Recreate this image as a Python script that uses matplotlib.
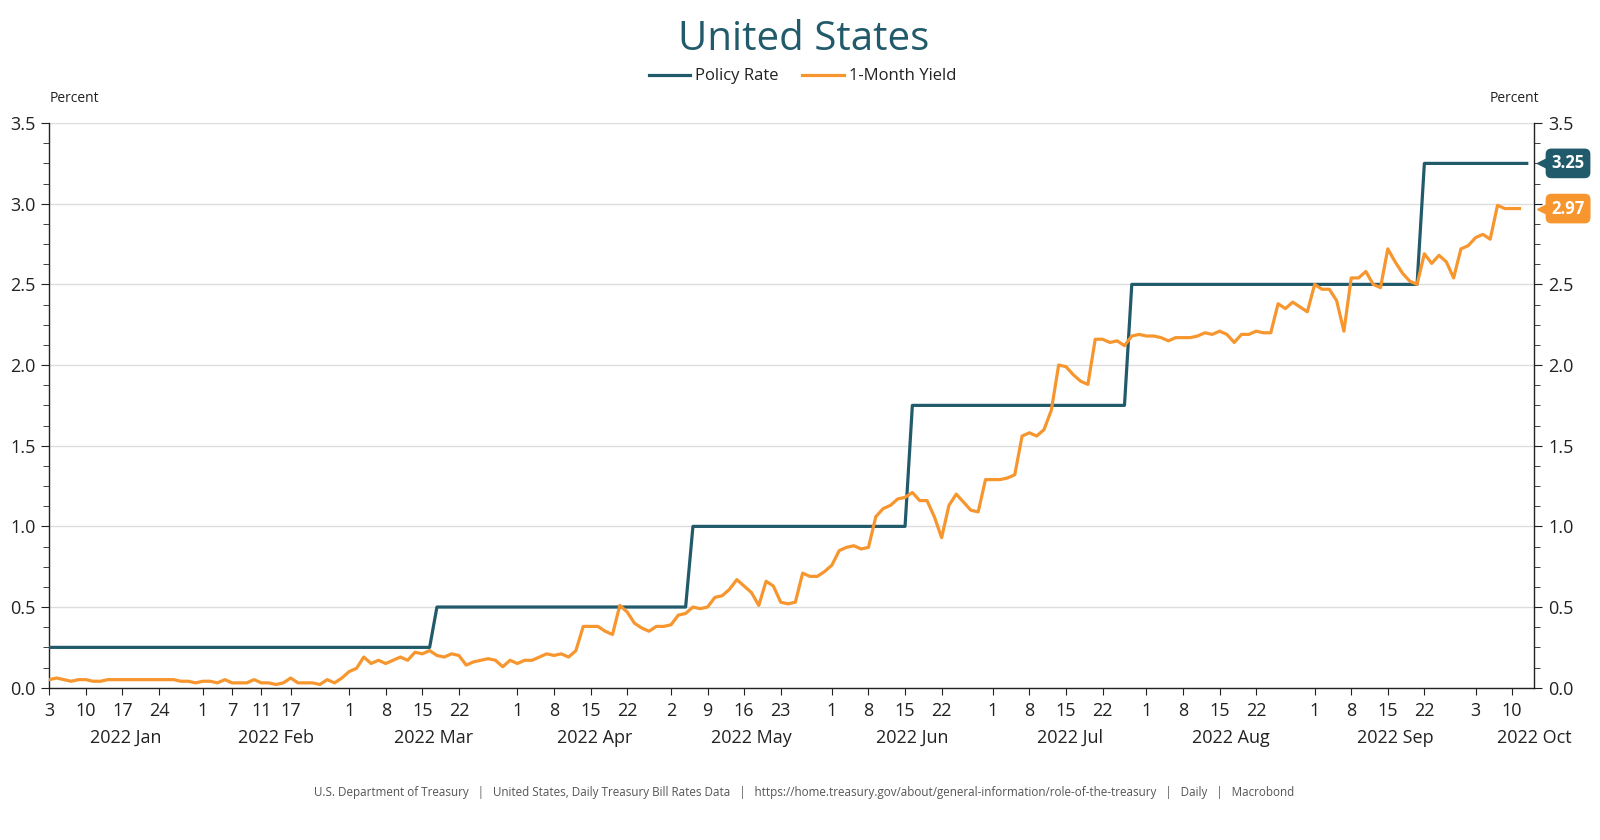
import numpy as np
import pandas as pd
import matplotlib
matplotlib.use('Agg')
from matplotlib import pyplot as plt
from matplotlib import transforms
from matplotlib.ticker import MultipleLocator

plt.rcParams['font.family'] = ['Open Sans', 'DejaVu Sans']

# x axis is a weekday axis (no weekend gaps), like the source chart
start = '2022-01-03'
x_end = '2022-10-13'

# 1-Month yield, one value per weekday (holidays show the previous print)
yield_jan = [0.05, 0.06, 0.05, 0.04, 0.05, 0.05, 0.04, 0.04, 0.05, 0.05, 0.05,
             0.05, 0.05, 0.05, 0.05, 0.05, 0.05, 0.05, 0.04, 0.04, 0.03]
yield_feb = [0.04, 0.04, 0.03, 0.05, 0.03, 0.03, 0.03, 0.05, 0.03, 0.03, 0.02,
             0.03, 0.06, 0.03, 0.03, 0.03, 0.02, 0.05, 0.03, 0.06]
yield_mar = [0.10, 0.12, 0.19, 0.15, 0.17, 0.15, 0.17, 0.19, 0.17, 0.22, 0.21,
             0.23, 0.20, 0.19, 0.21, 0.20, 0.14, 0.16, 0.17, 0.18, 0.17, 0.13, 0.17]
yield_apr = [0.15, 0.17, 0.17, 0.19, 0.21, 0.20, 0.21, 0.19, 0.23, 0.38, 0.38,
             0.38, 0.35, 0.33, 0.51, 0.47, 0.40, 0.37, 0.35, 0.38, 0.38]
yield_may = [0.39, 0.45, 0.46, 0.50, 0.49, 0.50, 0.56, 0.57, 0.61, 0.67, 0.63,
             0.59, 0.51, 0.66, 0.63, 0.53, 0.52, 0.53, 0.71, 0.69, 0.69, 0.72]
yield_jun = [0.76, 0.85, 0.87, 0.88, 0.86, 0.87, 1.06, 1.11, 1.13, 1.17, 1.18,
             1.21, 1.16, 1.16, 1.06, 0.93, 1.13, 1.20, 1.15, 1.10, 1.09, 1.29]
yield_jul = [1.29, 1.29, 1.30, 1.32, 1.56, 1.58, 1.56, 1.60, 1.72, 2.00, 1.99,
             1.94, 1.90, 1.88, 2.16, 2.16, 2.14, 2.15, 2.12, 2.18, 2.19]
yield_aug = [2.18, 2.18, 2.17, 2.15, 2.17, 2.17, 2.17, 2.18, 2.20, 2.19, 2.21,
             2.19, 2.14, 2.19, 2.19, 2.21, 2.20, 2.20, 2.38, 2.35, 2.39, 2.36, 2.33]
yield_sep = [2.50, 2.47, 2.47, 2.40, 2.21, 2.54, 2.54, 2.58, 2.50, 2.48, 2.72,
             2.64, 2.57, 2.52, 2.50, 2.69, 2.63, 2.68, 2.64, 2.54, 2.72, 2.74]
yield_oct = [2.79, 2.81, 2.78, 2.99, 2.97, 2.97, 2.97]

# policy rate (upper bound) and the days the new level shows up
hike_dates = ['2022-03-17', '2022-05-05', '2022-06-16', '2022-07-28', '2022-09-22']
policy_levels = [0.25, 0.50, 1.00, 1.75, 2.50, 3.25]
policy_end = '2022-10-12'

tick_days = ['2022-01-03', '2022-01-10', '2022-01-17', '2022-01-24',
             '2022-02-01', '2022-02-07', '2022-02-11', '2022-02-17',
             '2022-03-01', '2022-03-08', '2022-03-15', '2022-03-22',
             '2022-04-01', '2022-04-08', '2022-04-15', '2022-04-22',
             '2022-05-02', '2022-05-09', '2022-05-16', '2022-05-23',
             '2022-06-01', '2022-06-08', '2022-06-15', '2022-06-22',
             '2022-07-01', '2022-07-08', '2022-07-15', '2022-07-22',
             '2022-08-01', '2022-08-08', '2022-08-15', '2022-08-22',
             '2022-09-01', '2022-09-08', '2022-09-15', '2022-09-22',
             '2022-10-03', '2022-10-10']
month_names = ['Jan', 'Feb', 'Mar', 'Apr', 'May', 'Jun', 'Jul', 'Aug', 'Sep', 'Oct']

source_text = ('U.S. Department of Treasury   |   United States, Daily Treasury Bill Rates Data   |   '
               'https://home.treasury.gov/about/general-information/role-of-the-treasury   |   '
               'Daily   |   Macrobond')

teal = '#215B6B'
orange = '#F7962E'


def wpos(d):
    # weekday position on the axis
    return np.busday_count(np.datetime64(start), np.datetime64(pd.Timestamp(d).date()))


yield_vals = yield_jan + yield_feb + yield_mar + yield_apr + yield_may + \
    yield_jun + yield_jul + yield_aug + yield_sep + yield_oct
yield_dates = pd.bdate_range(start, periods=len(yield_vals))
x_yield = np.array([wpos(d) for d in yield_dates])

policy_dates = pd.bdate_range(start, policy_end)
idx = np.searchsorted(pd.to_datetime(hike_dates), policy_dates, side='right')
policy_vals = np.array(policy_levels)[idx]
x_policy = np.array([wpos(d) for d in policy_dates])

xmax = wpos(x_end)

fig = plt.figure(figsize=(16, 8.4), dpi=100)
ax = fig.add_axes([0.0308, 0.1813, 0.928, 0.6722])

ax.plot(x_policy, policy_vals, color=teal, lw=2.3, zorder=4, label='Policy Rate')
ax.plot(x_yield, yield_vals, color=orange, lw=2.3, zorder=5, label='1-Month Yield')

ax.set_xlim(0, xmax)
ax.set_ylim(0, 3.5)
ax.yaxis.set_major_locator(MultipleLocator(0.5))
ax.yaxis.set_minor_locator(MultipleLocator(0.125))
ax.yaxis.set_major_formatter(plt.FormatStrFormatter('%.1f'))
ax.grid(axis='y', which='major', color='#DDDDDD', lw=1)
ax.set_axisbelow(True)

for s in ['left', 'right', 'bottom']:
    ax.spines[s].set_color('#222222')
    ax.spines[s].set_linewidth(1)
ax.spines['top'].set_visible(False)

ax.tick_params(axis='y', which='both', left=True, right=True, labelleft=True,
               labelright=True, direction='out', colors='#222222', labelsize=13, pad=4)
ax.tick_params(axis='y', which='major', length=6)
ax.tick_params(axis='y', which='minor', length=4)

ax.set_xticks([wpos(d) for d in tick_days])
ax.set_xticklabels([str(pd.Timestamp(d).day) for d in tick_days])
ax.tick_params(axis='x', direction='out', length=5, colors='#222222', labelsize=13, pad=5)

# month labels under the day labels
blend = transforms.blended_transform_factory(ax.transData, fig.transFigure)
for m, name in enumerate(month_names):
    m0 = wpos(pd.Timestamp(2022, m + 1, 1))
    m1 = wpos(pd.Timestamp(2022, m + 2, 1))
    xc = min(max((max(m0, 0) + m1) / 2, 0), xmax)
    ax.text(xc, 0.122, '2022 ' + name, transform=blend, ha='center', va='center',
            fontsize=13, color='#222222')

# last value tags on the right, they cover the right-hand 3.0 label
tag = transforms.blended_transform_factory(ax.transAxes, ax.transData)
fig.canvas.draw()
for t in ax.yaxis.get_major_ticks():
    if abs(t.get_loc() - 3.0) < 1e-6:
        t.label2.set_visible(False)

for v, c in [(policy_vals[-1], teal), (yield_vals[-1], orange)]:
    ax.annotate('%.2f' % v, xy=(1, v), xycoords=tag, xytext=(12.5, 0),
                textcoords='offset points', ha='left', va='center', color='white',
                fontsize=12, fontweight='bold', annotation_clip=False, zorder=10,
                bbox=dict(boxstyle='round,pad=0.35', fc=c, ec='none'))
    ax.plot([1.0055], [v], marker='<', ms=7.5, color=c, transform=tag,
            clip_on=False, zorder=10)

fig.text(0.5025, 0.953, 'United States', ha='center', va='center', fontsize=29, color=teal)
fig.legend(loc='center', bbox_to_anchor=(0.5015, 0.909), ncol=2, frameon=False,
           fontsize=12, handlelength=2.5, columnspacing=1.4, handletextpad=0.3,
           labelcolor='#222222')

fig.text(0.0308, 0.883, 'Percent', ha='left', va='center', fontsize=10, color='#222222')
fig.text(0.962, 0.883, 'Percent', ha='right', va='center', fontsize=10, color='#222222')
fig.text(0.5025, 0.056, source_text, ha='center', va='center', fontsize=8.4, color='#555555')

fig.savefig('out.png', dpi=100)
